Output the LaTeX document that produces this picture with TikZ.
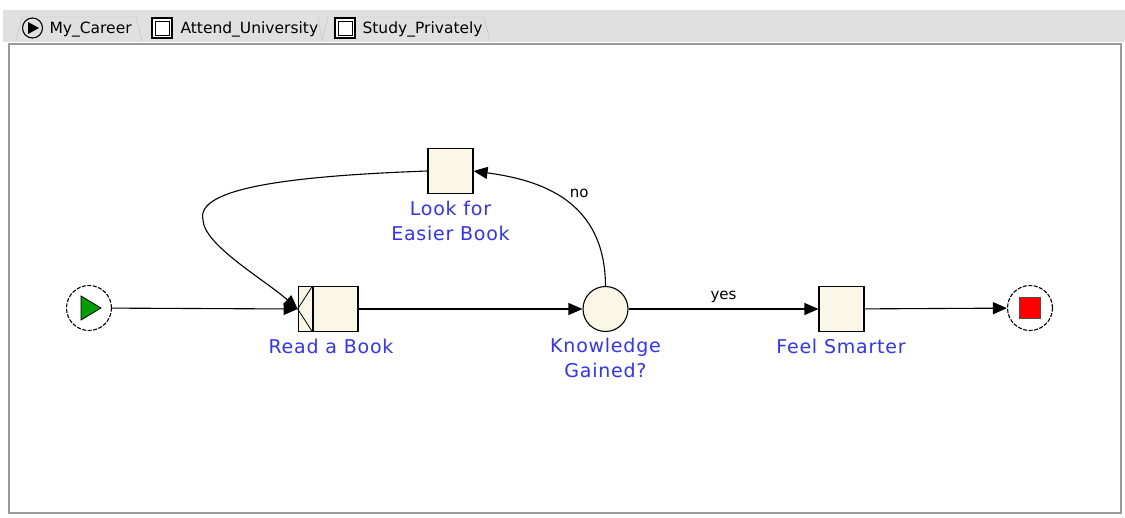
\documentclass[tikz,border=0pt]{standalone}
\usepackage{fontspec}
\setmainfont{DejaVu Sans}
\usetikzlibrary{arrows.meta,positioning}
\definecolor{taskfill}{HTML}{FBF7E7}
\definecolor{labelblue}{HTML}{3333FF}
\definecolor{tabgray}{HTML}{E0E0E0}
\definecolor{framegray}{HTML}{9A9A9A}
\definecolor{startgreen}{HTML}{00A000}
\definecolor{endred}{HTML}{FF0000}

\begin{document}
\begin{tikzpicture}[
  x=1pt, y=-1pt, line width=1.1pt,
  task/.style={draw, fill=taskfill, minimum width=45pt, minimum height=45pt, inner sep=0pt},
  joinbox/.style={draw, fill=taskfill, minimum width=14pt, minimum height=45pt, inner sep=0pt},
  cond/.style={draw, circle, fill=taskfill, minimum size=45pt, inner sep=0pt},
  event/.style={draw, circle, dash pattern=on 4pt off 1.5pt, fill=white, minimum size=45pt, inner sep=0pt},
  tasklabel/.style={text=labelblue, font=\fontsize{19}{25}\selectfont\addfontfeature{LetterSpace=4}, align=center, inner sep=1pt},
  guard/.style={font=\fontsize{15}{17}\selectfont, inner sep=1pt},
  tabtext/.style={font=\fontsize{15.5}{17}\selectfont, inner sep=0pt, anchor=west},
  tabicon/.style={draw, fill=white, minimum size=20pt, inner sep=0pt},
  tabinner/.style={draw, fill=white, minimum size=14pt, inner sep=0pt},
  arr/.style={-{Triangle[length=14pt,width=12pt]}}
]
\useasboundingbox (0,0) rectangle (1125,517);

% tab bar
\fill[tabgray] (3,10) rectangle (1125,42);
\draw[white, thick] (3,42) -- (1125,42);
\draw[gray!50, thin] (16,41) -- (22,17) -- (136,17) -- (142,41);
\draw[gray!50, thin] (318,17) -- (322,41);
\draw[gray!50, thin] (322,41) -- (328,17) -- (484,17) -- (490,41);
\node[draw, circle, minimum size=20pt, inner sep=0pt] (careericon) at (32.5,28) {};
\fill (28,22) -- (39,28) -- (28,34) -- cycle;
\node[tabtext] (careertab) at (49,29.5) {My\_Career};
\node[tabicon] (uniicon) at (162,28) {};
\node[tabinner, line width=0.9pt] (uniinner) at (uniicon) {};
\node[tabtext] (unitab) at (180,29.5) {Attend\_University};
\node[tabicon] (studyicon) at (345,28) {};
\node[tabinner, line width=0.9pt] (studyinner) at (studyicon) {};
\node[tabtext] (studytab) at (362,29.5) {Study\_Privately};

% canvas
\draw[framegray, line width=2pt, fill=white] (9,44) rectangle (1121,513);

% nodes
\node[event] (start) at (89,308) {};
\fill[startgreen, draw=black, line width=0.8pt] (81,296) -- (101,308) -- (81,320) -- cycle;
\node[task] (read) at (335.5,309) {};
\node[joinbox, left=0pt of read, line width=0.8pt] (readjoin) {};
\draw[line width=0.8pt] (readjoin.north east) -- (readjoin.west) -- (readjoin.south east);
\node[task] (look) at (450.5,171) {};
\node[cond] (know) at (605.5,309) {};
\node[task] (feel) at (841.5,309) {};
\node[event] (stop) at (1030,308) {};
\node[fill=endred, draw=black!70, minimum size=21pt, inner sep=0pt] (stopmark) at (1030,308) {};

% labels
\node[tasklabel] (readname) at (331,346) {Read a Book};
\node[tasklabel, below=5pt of look] (lookname) {Look for\\Easier Book};
\node[tasklabel, below=4pt of know] (knowname) {Knowledge\\Gained?};
\node[tasklabel] (feelname) at (841,346) {Feel Smarter};

% flows
\draw[arr] (start) -- (readjoin.west);
\draw[arr] (read) -- (know);
\draw[arr] (know) -- node[guard, above=5pt] (yes) {yes} (feel);
\draw[arr] (feel) -- (stop);
\draw[arr] (know.north) .. controls (605,200) and (540,180) .. (look.east)
  node[guard, pos=0.5, above right=0pt and 4pt] (no) {no};
\draw[arr] (look.west) .. controls (290,176) and (195,188) .. (203,220)
  .. controls (204,245) and (265,280) .. (readjoin.west);
\end{tikzpicture}
\end{document}
